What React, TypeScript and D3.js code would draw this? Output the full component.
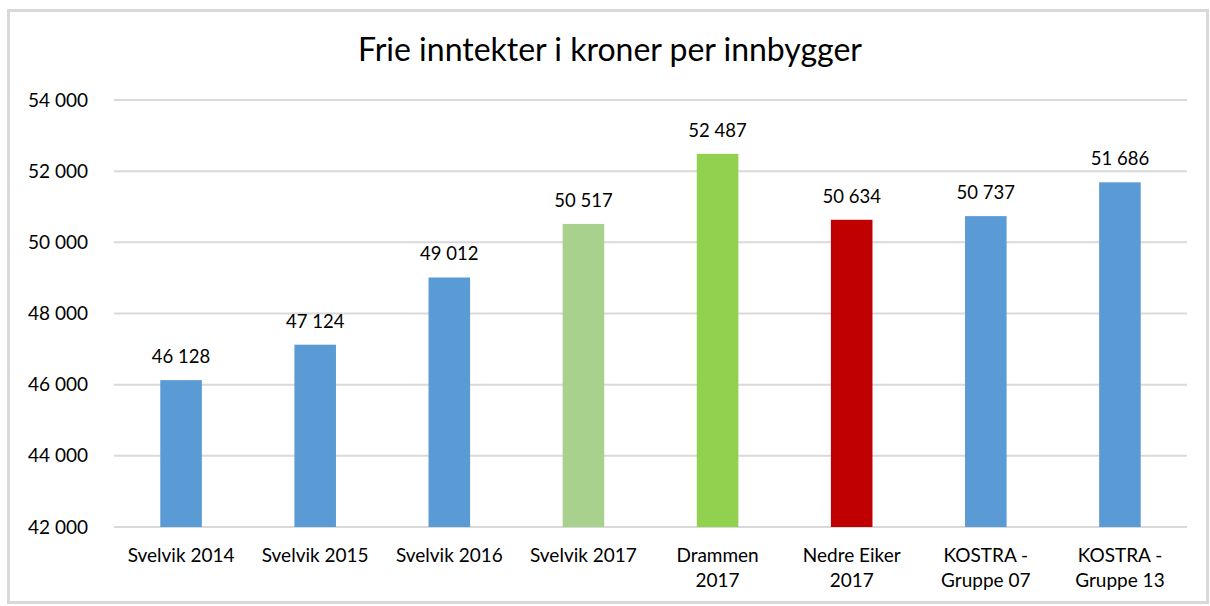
import React, { useEffect, useRef } from 'react';
import * as d3 from 'd3';

const categories = [
  ['Svelvik 2014'],
  ['Svelvik 2015'],
  ['Svelvik 2016'],
  ['Svelvik 2017'],
  ['Drammen', '2017'],
  ['Nedre Eiker', '2017'],
  ['KOSTRA -', 'Gruppe 07'],
  ['KOSTRA -', 'Gruppe 13'],
];
const values = [46128, 47124, 49012, 50517, 52487, 50634, 50737, 51686];
const barColors = ['#5b9bd5', '#5b9bd5', '#5b9bd5', '#a9d18e', '#92d050', '#c00000', '#5b9bd5', '#5b9bd5'];
const yTicks = [42000, 44000, 46000, 48000, 50000, 52000, 54000];
const title = 'Frie inntekter i kroner per innbygger';

const fmt = (v: number) => d3.format(',')(v).replace(/,/g, ' ');

const App = () => {
  const ref = useRef<SVGSVGElement>(null);

  useEffect(() => {
    const W = 1210, H = 606;
    const margin = { top: 100, right: 23, bottom: 79, left: 114 };
    const width = W - margin.left - margin.right;
    const height = H - margin.top - margin.bottom;
    const font = 'Lato, "Open Sans", sans-serif';

    const svg = d3.select(ref.current);
    svg.selectAll('*').remove();

    svg.append('rect')
      .attr('x', 0).attr('y', 0).attr('width', W).attr('height', H)
      .attr('fill', '#fff');

    // outer frame
    svg.append('rect')
      .attr('x', 8.5).attr('y', 10.5).attr('width', 1199).attr('height', 592)
      .attr('fill', 'none')
      .attr('stroke', '#d9d9d9')
      .attr('stroke-width', 3);

    svg.append('text')
      .attr('x', 610).attr('y', 61)
      .attr('text-anchor', 'middle')
      .style('font-family', font)
      .style('font-size', '32px')
      .attr('fill', '#000')
      .text(title);

    const g = svg.append('g').attr('transform', `translate(${margin.left},${margin.top})`);

    const x = d3.scaleBand().domain(categories.map((c, i) => String(i))).range([0, width]).paddingInner(0.69).paddingOuter(0.345);
    const y = d3.scaleLinear().domain([42000, 54000]).range([height, 0]);

    g.selectAll('.grid')
      .data(yTicks)
      .enter()
      .append('line')
      .attr('x1', 0).attr('x2', width)
      .attr('y1', d => y(d)).attr('y2', d => y(d))
      .attr('stroke', '#d9d9d9')
      .attr('stroke-width', 2);

    g.selectAll('.ytick')
      .data(yTicks)
      .enter()
      .append('text')
      .attr('x', -26)
      .attr('y', d => y(d))
      .attr('dy', '0.35em')
      .attr('text-anchor', 'end')
      .style('font-family', font)
      .style('font-size', '19px')
      .attr('fill', '#000')
      .text(d => fmt(d));

    g.selectAll('.bar')
      .data(values)
      .enter()
      .append('rect')
      .attr('x', (d, i) => x(String(i))!)
      .attr('width', x.bandwidth())
      .attr('y', d => y(d))
      .attr('height', d => height - y(d))
      .attr('fill', (d, i) => barColors[i]);

    g.selectAll('.val')
      .data(values)
      .enter()
      .append('text')
      .attr('x', (d, i) => x(String(i))! + x.bandwidth() / 2)
      .attr('y', d => y(d) - 17)
      .attr('text-anchor', 'middle')
      .style('font-family', font)
      .style('font-size', '18.5px')
      .attr('fill', '#000')
      .text(d => fmt(d));

    categories.forEach((lines, i) => {
      const t = g.append('text')
        .attr('x', x(String(i))! + x.bandwidth() / 2)
        .attr('y', height + 35)
        .attr('text-anchor', 'middle')
        .style('font-family', font)
        .style('font-size', '19px')
        .attr('fill', '#000');
      lines.forEach((l, j) => {
        t.append('tspan')
          .attr('x', x(String(i))! + x.bandwidth() / 2)
          .attr('dy', j === 0 ? 0 : 25)
          .text(l);
      });
    });
  }, []);

  return (
    <svg ref={ref} width={1210} height={606} style={{ position: 'absolute', left: 0, top: 0 }} />
  );
};

export default App;
